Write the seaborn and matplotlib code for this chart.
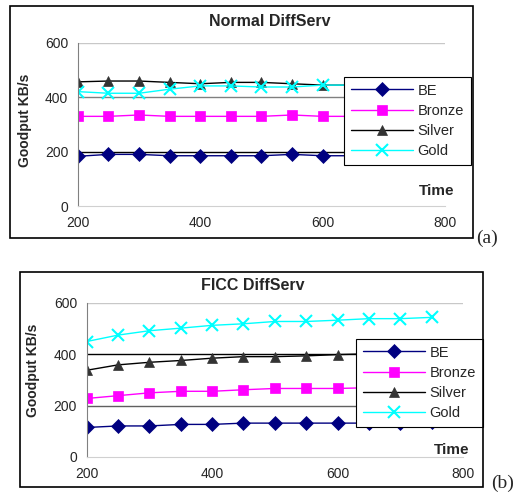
import matplotlib
matplotlib.use("Agg")
import matplotlib.pyplot as plt
from matplotlib.patches import Rectangle
import seaborn as sns
import pandas as pd

sns.set_style("white")
plt.rcParams['font.family'] = ['Liberation Sans', 'DejaVu Sans']

series = ["BE", "Bronze", "Silver", "Gold"]
colors = {"BE": "#000080", "Bronze": "#FF00FF", "Silver": "#333333", "Gold": "#00FFFF"}
line_colors = {"BE": "#000080", "Bronze": "#FF00FF", "Silver": "#000000", "Gold": "#00FFFF"}
markers = {"BE": "D", "Bronze": "s", "Silver": "^", "Gold": "x"}

# Normal DiffServ
time_a = [200, 250, 300, 350, 400, 450, 500, 550, 600, 650, 700, 750]
be_a = [183, 190, 190, 185, 185, 185, 185, 190, 185, 185, 185, 185]
bronze_a = [330, 330, 335, 330, 330, 330, 330, 335, 330, 330, 330, 330]
silver_a = [457, 460, 460, 455, 450, 455, 455, 450, 445, 445, 445, 445]
gold_a = [421, 415, 415, 430, 442, 442, 438, 438, 445, 445, 445, 445]

# FICC DiffServ
time_b = [200, 250, 300, 350, 400, 450, 500, 550, 600, 650, 700, 750]
be_b = [115, 121, 121, 127, 127, 132, 132, 132, 132, 132, 132, 137]
bronze_b = [228, 239, 250, 256, 256, 262, 267, 267, 267, 270, 272, 275]
silver_b = [338, 359, 369, 376, 385, 391, 391, 394, 399, 402, 405, 405]
gold_b = [450, 475, 492, 502, 513, 519, 528, 528, 533, 539, 539, 544]

fig = plt.figure(figsize=(5.26, 5.00), dpi=100)


def draw_panel(ax, t, vals, grid_colors):
    df = pd.DataFrame({"Time": t, **dict(zip(series, vals))})
    for gy, gc in zip([200, 400, 600], grid_colors):
        ax.axhline(gy, color=gc, lw=1, zorder=0)
    for s in series:
        sns.lineplot(data=df, x="Time", y=s, ax=ax, color=line_colors[s], lw=1,
                     marker=markers[s], markersize=7 if s != "Gold" else 8,
                     markerfacecolor=colors[s], markeredgecolor=colors[s],
                     markeredgewidth=1.5 if s == "Gold" else 0.5, label=s)
    ax.set_xlim(200, 800)
    ax.set_ylim(0, 600)
    ax.set_xticks([200, 400, 600, 800])
    ax.set_yticks([0, 200, 400, 600])
    ax.set_xlabel("")
    ax.set_ylabel("")
    ax.tick_params(labelsize=10, length=3, color="#808080", pad=4)
    for sp in ["top", "right"]:
        ax.spines[sp].set_visible(False)
    ax.spines["left"].set_color("#808080")
    ax.spines["bottom"].set_color("#d0d0d0")


ax1 = fig.add_axes([0.148, 0.588, 0.698, 0.326])
draw_panel(ax1, time_a, [be_a, bronze_a, silver_a, gold_a], ["#000000", "#808080", "#c8c8c8"])
ax2 = fig.add_axes([0.165, 0.086, 0.715, 0.308])
draw_panel(ax2, time_b, [be_b, bronze_b, silver_b, gold_b], ["#606060", "#000000", "#c8c8c8"])

for ax, anchor in [(ax1, (0.654, 0.846)), (ax2, (0.677, 0.322))]:
    h, l = ax.get_legend_handles_labels()
    leg = ax.legend(h, l, loc="upper left", bbox_to_anchor=anchor,
                    bbox_transform=fig.transFigure, borderaxespad=0,
                    fancybox=False, framealpha=1, edgecolor="black",
                    fontsize=10.5, handlelength=4.3, labelspacing=0.42,
                    handletextpad=0.3, borderpad=0.45)
    leg.get_frame().set_linewidth(0.8)
    leg.set_zorder(10)

# outer frames
fig.patches.append(Rectangle((10 / 526, 1 - 238 / 500), 463 / 526, 232 / 500,
                             transform=fig.transFigure, fill=False, ec="black", lw=1.2))
fig.patches.append(Rectangle((20 / 526, 1 - 487 / 500), 463 / 526, 215 / 500,
                             transform=fig.transFigure, fill=False, ec="black", lw=1.2))

fig.text(0.513, 0.956, "Normal DiffServ", ha="center", va="center", fontsize=11.5, weight="bold")
fig.text(0.481, 0.430, "FICC DiffServ", ha="center", va="center", fontsize=11.5, weight="bold")

fig.text(0.048, 0.76, "Goodput KB/s", rotation=90, ha="center", va="center", fontsize=10, weight="bold")
fig.text(0.063, 0.26, "Goodput KB/s", rotation=90, ha="center", va="center", fontsize=10, weight="bold")

fig.text(0.83, 0.618, "Time", ha="center", va="center", fontsize=11, weight="bold")
fig.text(0.859, 0.100, "Time", ha="center", va="center", fontsize=11, weight="bold")

fig.text(0.926, 0.524, "(a)", ha="center", va="center", fontsize=14, family="Liberation Serif")
fig.text(0.956, 0.034, "(b)", ha="center", va="center", fontsize=14, family="Liberation Serif")

fig.savefig("out.png", dpi=100)
